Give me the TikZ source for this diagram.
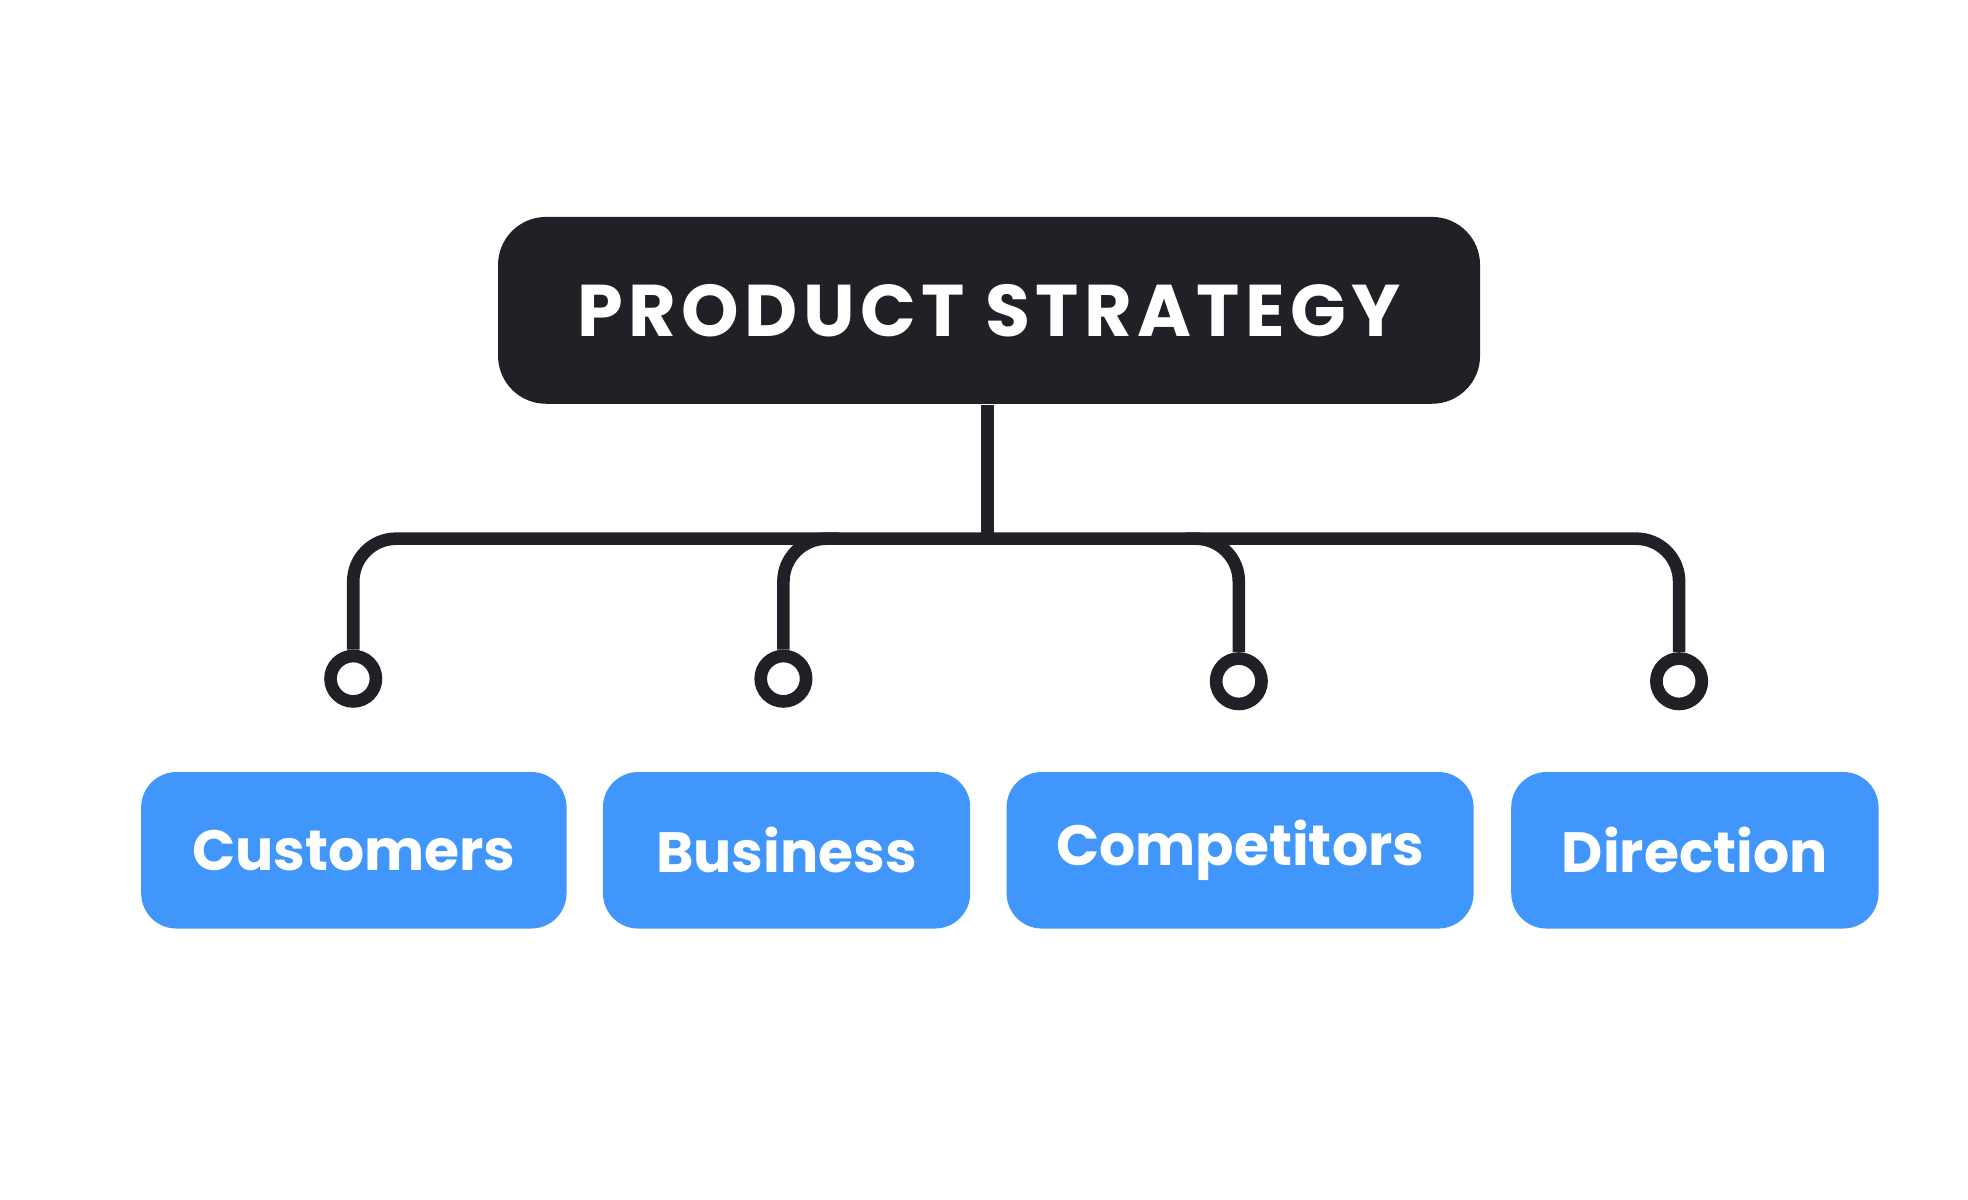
\documentclass[tikz,border=0pt]{standalone}
\usepackage{fontspec}
\setmainfont{Poppins}
\usetikzlibrary{positioning}
\definecolor{darkbox}{HTML}{202127}
\definecolor{bluebox}{HTML}{4096FA}
\newcommand{\lsp}{\kern1.2pt}
\begin{document}
\begin{tikzpicture}[x=0.01cm,y=-0.01cm]
\tikzstyle{title}=[rectangle, rounded corners=0.38cm, fill=darkbox, text=white, font=\fontsize{16.5}{20}\selectfont\bfseries, minimum width=7.78cm, minimum height=1.48cm, inner sep=0pt]
\tikzstyle{item}=[rectangle, rounded corners=0.28cm, fill=bluebox, text=white, font=\fontsize{12.8}{15}\selectfont\bfseries, minimum height=1.24cm, inner sep=0pt]
\tikzstyle{ring}=[circle, draw=darkbox, line width=0.1cm, fill=white, minimum size=0.36cm, inner sep=0pt]
\tikzstyle{connect}=[draw=darkbox, line width=0.1cm, rounded corners=0.34cm]
\useasboundingbox (0,0) rectangle (1560,951);

\node[title] (top) at (784,246) {P\lsp R\lsp O\lsp D\lsp U\lsp C\lsp T\lsp\ S\lsp T\lsp R\lsp A\lsp T\lsp E\lsp G\lsp Y};

\node[item, minimum width=3.37cm] (cust) at (280.5,674) {Customers};
\node[item, minimum width=2.91cm] (bus) at (623.5,674) {Business};
\node[item, minimum width=3.70cm] (comp) at (983,674) {Competitors};
\node[item, minimum width=2.91cm] (dir) at (1343.5,674) {Direction};

\node[ring] (r1) at (280,538) {};
\node[ring] (r2) at (621,538) {};
\node[ring] (r3) at (982,540) {};
\node[ring] (r4) at (1331,540) {};

\coordinate (mid) at (783,427);
\coordinate (j2) at (665,427);
\coordinate (j3) at (940,427);

\draw[connect] (top.south -| mid) -- (mid);
\draw[connect] (r1.north) |- (mid) -| (r4.north);
\draw[connect] (r2.north) |- (j2);
\draw[connect] (r3.north) |- (j3);
\end{tikzpicture}
\end{document}
